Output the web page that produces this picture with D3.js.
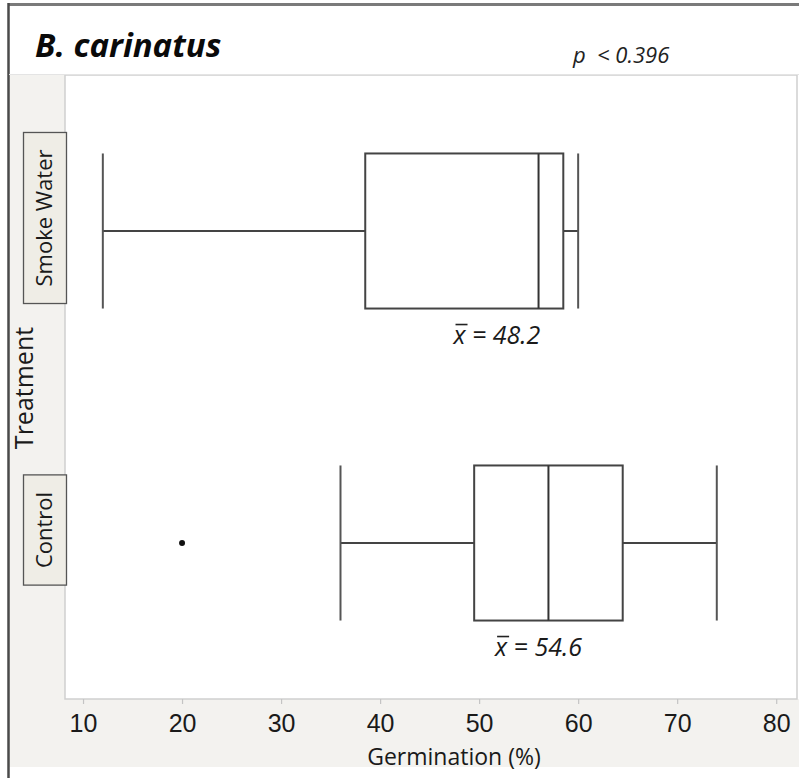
<!DOCTYPE html>
<html>
<head>
<meta charset="utf-8">
<script src="https://cdn.jsdelivr.net/npm/d3@7"></script>
<style>
  html, body { margin: 0; padding: 0; background: #fff; }
  svg { display: block; }
</style>
</head>
<body>
<svg id="chart" width="799" height="778"></svg>
<script>
// ---- data ----
const categories = ["Smoke Water", "Control"];
const whiskerLow = [12, 36];
const q1 = [38.5, 49.5];
const medians = [56, 57];
const q3 = [58.5, 64.5];
const whiskerHigh = [60, 74];
const means = [48.2, 54.6];
const meanLabelAt = [51.8, 56.0];   // where the mean annotation is centred (data units)
const outlierCategories = ["Control"];
const outlierValues = [20];
const xTicks = [10, 20, 30, 40, 50, 60, 70, 80];
const title = "B. carinatus";
const pText = "< 0.396";
const xTitle = "Germination (%)";
const yTitle = "Treatment";

// ---- layout ----
const W = 799, H = 778;
const plot = { left: 65, right: 797, top: 75, bottom: 699 };

const svg = d3.select("#chart");

const x = d3.scaleLinear().domain([8.18, 82.1]).range([plot.left, plot.right]);
const y = d3.scalePoint().domain(categories).range([plot.top, plot.bottom]).padding(0.5);
const boxH = y.step() * 0.497;

// backgrounds
svg.append("rect").attr("x", 0).attr("y", 0).attr("width", W).attr("height", H).attr("fill", "#fff");
svg.append("rect").attr("x", 9).attr("y", plot.top).attr("width", plot.left - 9).attr("height", 767 - plot.top).attr("fill", "#f3f2ef");
svg.append("rect").attr("x", 9).attr("y", plot.bottom).attr("width", W - 9).attr("height", 767 - plot.bottom).attr("fill", "#f3f2ef");
svg.append("rect").attr("x", plot.left).attr("y", plot.top)
  .attr("width", plot.right - plot.left).attr("height", plot.bottom - plot.top)
  .attr("fill", "#fff").attr("stroke", "#cfcfcf").attr("stroke-width", 1.5);

// outer frame
svg.append("line").attr("x1", 8).attr("x2", W).attr("y1", 4.5).attr("y2", 4.5).attr("stroke", "#7a7a7a").attr("stroke-width", 3);
svg.append("line").attr("x1", 8.5).attr("x2", 8.5).attr("y1", 3).attr("y2", H).attr("stroke", "#4a4a4a").attr("stroke-width", 2.5);
svg.append("line").attr("x1", 9).attr("x2", W).attr("y1", plot.top - 0.5).attr("y2", plot.top - 0.5).attr("stroke", "#e4e4e4").attr("stroke-width", 1);

// x axis
const xAxis = d3.axisBottom(x).tickValues(xTicks).tickSize(5).tickPadding(10).tickFormat(d3.format("d"));
const gx = svg.append("g").attr("transform", `translate(0,${plot.bottom})`).call(xAxis);
gx.select(".domain").remove();
gx.selectAll(".tick line").attr("stroke", "#c4c4c4").attr("stroke-width", 1.2);
gx.selectAll(".tick text").attr("font-family", "Liberation Sans, Arial, sans-serif")
  .attr("font-size", 25).attr("fill", "#1a1a1a").attr("dy", "0.72em");

svg.append("text").attr("x", 454).attr("y", 765).attr("text-anchor", "middle")
  .attr("font-family", "Open Sans, sans-serif").attr("font-size", 23).attr("fill", "#1a1a1a").text(xTitle);

// y title
svg.append("text").attr("transform", `translate(33,388) rotate(-90)`).attr("text-anchor", "middle")
  .attr("font-family", "Open Sans, sans-serif").attr("font-size", 25).attr("fill", "#1a1a1a").text(yTitle);

// category labels in boxes
categories.forEach((c, i) => {
  const cy = y(c) - 13;
  const g = svg.append("g");
  const rect = g.append("rect");
  const t = g.append("text").attr("transform", `translate(52,${cy}) rotate(-90)`).attr("text-anchor", "middle")
    .attr("font-family", "Open Sans, sans-serif").attr("font-size", 22).attr("fill", "#1a1a1a").text(c);
  const len = t.node().getComputedTextLength();
  const pad = 17;
  rect.attr("x", 23.5).attr("y", cy - len / 2 - pad).attr("width", 43).attr("height", len + 2 * pad)
    .attr("fill", "#efede6").attr("stroke", "#555").attr("stroke-width", 1.3);
});

// box plots
const lineColor = "#444";
categories.forEach((c, i) => {
  const cy = y(c);
  const g = svg.append("g");
  // whiskers
  g.append("line").attr("x1", x(whiskerLow[i])).attr("x2", x(q1[i])).attr("y1", cy).attr("y2", cy)
    .attr("stroke", lineColor).attr("stroke-width", 2);
  g.append("line").attr("x1", x(q3[i])).attr("x2", x(whiskerHigh[i])).attr("y1", cy).attr("y2", cy)
    .attr("stroke", lineColor).attr("stroke-width", 2);
  [whiskerLow[i], whiskerHigh[i]].forEach(v => {
    g.append("line").attr("x1", x(v)).attr("x2", x(v)).attr("y1", cy - boxH / 2).attr("y2", cy + boxH / 2)
      .attr("stroke", "#555").attr("stroke-width", 2);
  });
  // box
  g.append("rect").attr("x", x(q1[i])).attr("y", cy - boxH / 2)
    .attr("width", x(q3[i]) - x(q1[i])).attr("height", boxH)
    .attr("fill", "#fff").attr("stroke", lineColor).attr("stroke-width", 2);
  // median
  g.append("line").attr("x1", x(medians[i])).attr("x2", x(medians[i]))
    .attr("y1", cy - boxH / 2).attr("y2", cy + boxH / 2).attr("stroke", "#333").attr("stroke-width", 2);
  // mean label
  const lx = x(meanLabelAt[i]);
  const ly = cy + boxH / 2 + 35;
  const mt = g.append("text").attr("x", lx).attr("y", ly).attr("text-anchor", "middle")
    .attr("font-family", "Open Sans, sans-serif").attr("font-style", "italic").attr("font-size", 25).attr("fill", "#1a1a1a");
  mt.append("tspan").attr("class", "xbar").text("x");
  mt.append("tspan").text(" = " + means[i].toFixed(1));
  const bb = mt.select(".xbar").node().getBBox();
  g.append("line").attr("x1", bb.x + 3).attr("x2", bb.x + bb.width + 1)
    .attr("y1", ly - 19).attr("y2", ly - 19).attr("stroke", "#222").attr("stroke-width", 1.6);
});

// outliers
outlierValues.forEach((v, k) => {
  svg.append("circle").attr("cx", x(v)).attr("cy", y(outlierCategories[k])).attr("r", 3).attr("fill", "#111");
});

// title and p value
svg.append("text").attr("x", 35).attr("y", 57)
  .attr("font-family", "Open Sans, sans-serif").attr("font-weight", "bold").attr("font-style", "italic")
  .attr("font-size", 33).attr("fill", "#0a0a0a").text(title);
svg.append("text").attr("x", 573).attr("y", 63)
  .attr("font-family", "Open Sans, sans-serif").attr("font-style", "italic").attr("font-size", 22).attr("fill", "#222").text("p");
svg.append("text").attr("x", 597).attr("y", 63)
  .attr("font-family", "Open Sans, sans-serif").attr("font-style", "italic").attr("font-size", 22).attr("fill", "#222").text(pText);
</script>
</body>
</html>
